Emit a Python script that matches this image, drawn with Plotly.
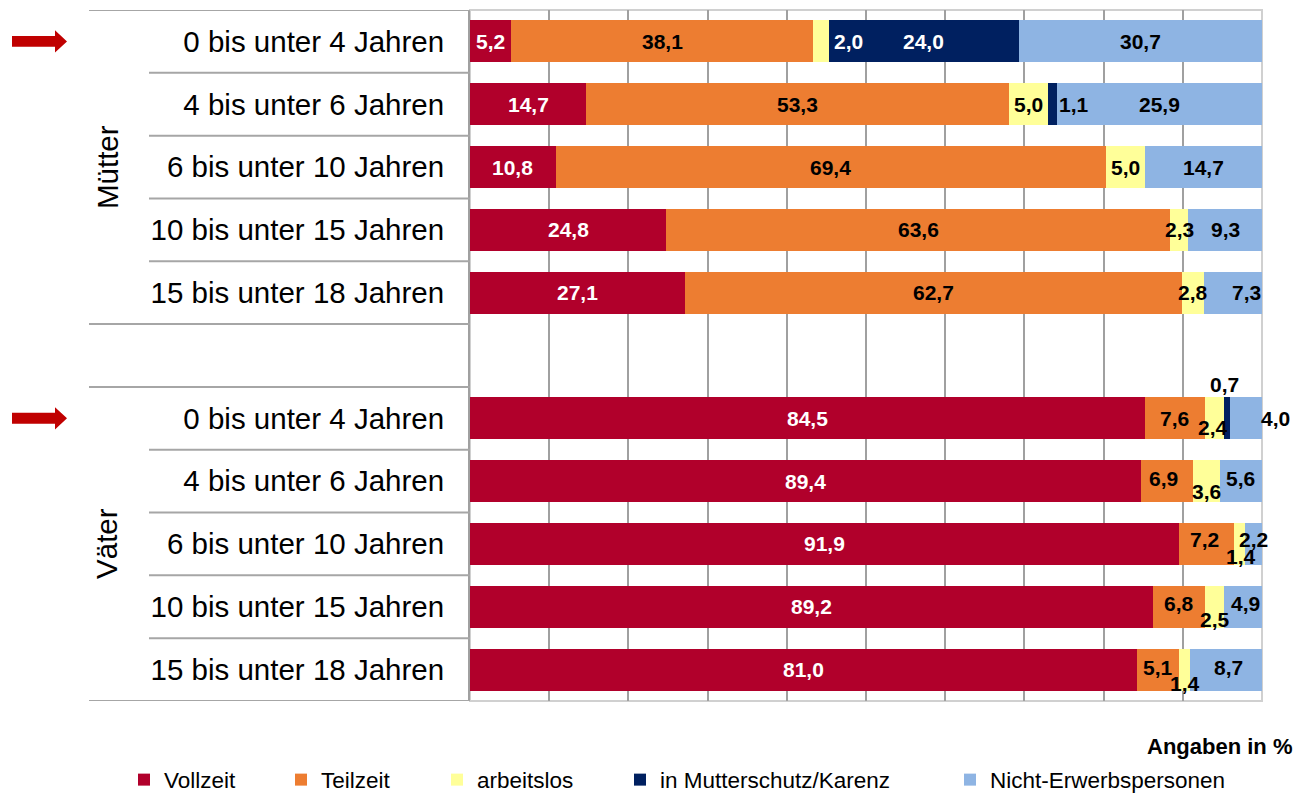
import plotly.graph_objects as go

# ---------------- data ----------------
categories = ["0 bis unter 4 Jahren", "4 bis unter 6 Jahren", "6 bis unter 10 Jahren",
              "10 bis unter 15 Jahren", "15 bis unter 18 Jahren", "",
              "0 bis unter 4 Jahren", "4 bis unter 6 Jahren", "6 bis unter 10 Jahren",
              "10 bis unter 15 Jahren", "15 bis unter 18 Jahren"]
group_names = ["Mütter", "Väter"]
group_rows = [2, 8]          # category slot at which each group label sits
arrow_rows = [0, 6]          # rows marked with an arrow

series_names = ["Vollzeit", "Teilzeit", "arbeitslos", "in Mutterschutz/Karenz", "Nicht-Erwerbspersonen"]
vollzeit = [5.2, 14.7, 10.8, 24.8, 27.1, None, 84.5, 89.4, 91.9, 89.2, 81.0]
teilzeit = [38.1, 53.3, 69.4, 63.6, 62.7, None, 7.6, 6.9, 7.2, 6.8, 5.1]
arbeitslos = [2.0, 5.0, 5.0, 2.3, 2.8, None, 2.4, 3.6, 1.4, 2.5, 1.4]
mutterschutz = [24.0, 1.1, None, None, None, None, 0.7, None, None, None, None]
nicht_erwerb = [30.7, 25.9, 14.7, 9.3, 7.3, None, 4.0, 5.6, 2.2, 4.9, 8.7]
series_values = [vollzeit, teilzeit, arbeitslos, mutterschutz, nicht_erwerb]

unit_note = "Angaben in %"

# ---------------- styles ----------------
colors = ["#B1002B", "#ED7D31", "#FFFF99", "#002060", "#8EB4E3"]
label_colors = ["white", "black", "black", "white", "black"]
FONT = "Liberation Sans, Arial, sans-serif"

# pixel offsets (dx, dy[up], colour override) for labels not centred in their segment
label_offsets = {
    (0, 2): (28, 0, "white"),
    (1, 3): (21, 0, "black"),
    (4, 4): (13, 0, None),
    (6, 2): (-2, -9, None),
    (6, 3): (-3, 34, "black"),
    (6, 4): (29, 0, None),
    (7, 1): (-4, 3, None),
    (7, 2): (0, -10, None),
    (7, 4): (0, 3, None),
    (8, 1): (-2, 4, None),
    (8, 2): (1, -13, None),
    (8, 4): (0, 4, None),
    (9, 1): (0, 3, None),
    (9, 2): (0, -13, None),
    (9, 4): (2, 3, None),
    (10, 1): (0, 2, None),
    (10, 2): (0, -14, None),
    (10, 4): (2, 2, None),
}

# plot area in pixels
W, H = 1296, 793
L, R, T, B = 470, 34, 10, 92
PW = W - L - R
PH = H - T - B


def px_x(p):
    return (p - L) / PW


def px_y(p):
    return (H - B - p) / PH


rows = list(range(len(categories)))

fig = go.Figure()
for k, (name, vals) in enumerate(zip(series_names, series_values)):
    fig.add_trace(go.Bar(
        name=name, y=rows, x=vals, orientation="h",
        marker=dict(color=colors[k], line=dict(width=0)),
        width=0.667, legend="legend" if k == 0 else f"legend{k + 1}",
        hovertemplate=name + ": %{x}<extra></extra>",
    ))

# ---------------- data labels ----------------
annotations = []
for i in rows:
    vals = [s[i] for s in series_values]
    total = sum(v for v in vals if v is not None)
    if total == 0:
        continue
    cum = 0.0
    for k, v in enumerate(vals):
        if v is None:
            continue
        center = (cum + v / 2) / total * 100
        cum += v
        dx, dy, col = label_offsets.get((i, k), (0, 0, None))
        annotations.append(dict(
            x=center, y=i, xref="x", yref="y", showarrow=False,
            text=f"{v:.1f}".replace(".", ","),
            font=dict(family=FONT, size=21, color=col or label_colors[k], weight="bold"),
            xshift=dx, yshift=dy,
        ))

# group labels
for g, r in zip(group_names, group_rows):
    annotations.append(dict(
        x=px_x(107), y=r, xref="paper", yref="y", showarrow=False, text=g,
        xanchor="center", yanchor="middle",
        textangle=-90, font=dict(family=FONT, size=29.5, color="black"),
    ))

annotations.append(dict(
    x=px_x(1294), y=px_y(746), xref="paper", yref="paper", showarrow=False,
    text=f"<b>{unit_note}</b>", xanchor="right", yanchor="middle",
    font=dict(family=FONT, size=22, color="black"),
))

# ---------------- shapes ----------------
shapes = []
# plot area frame (light)
shapes.append(dict(type="rect", xref="paper", yref="paper", x0=0, x1=1, y0=0, y1=1,
                   line=dict(color="#D0D0D0", width=2), layer="below"))
# category table lines
n = len(categories)
full = {-0.5, 4.5, 5.5, n - 0.5}
for b in [r - 0.5 for r in range(n + 1)]:
    x0 = px_x(89) if b in full else px_x(149)
    shapes.append(dict(type="line", xref="paper", yref="y", x0=x0, x1=0, y0=b, y1=b,
                       line=dict(color="#A6A6A6", width=2)))
# arrows
for r in arrow_rows:
    xs, xb, xt = px_x(12), px_x(55), px_x(67)
    hs, hh = 0.087, 0.178
    path = (f"M{xs},{r - hs} L{xb},{r - hs} L{xb},{r - hh} L{xt},{r} "
            f"L{xb},{r + hh} L{xb},{r + hs} L{xs},{r + hs} Z")
    shapes.append(dict(type="path", xref="paper", yref="y", path=path,
                       fillcolor="#C00000", line=dict(width=0)))

fig.update_layout(
    width=W, height=H,
    margin=dict(l=L, r=R, t=T, b=B, pad=0, autoexpand=False),
    paper_bgcolor="white", plot_bgcolor="white",
    barmode="stack", barnorm="percent", bargap=0,
    font=dict(family=FONT, color="black"),
    annotations=annotations, shapes=shapes,
    showlegend=True,
    xaxis=dict(range=[0, 100], tickvals=[10, 20, 30, 40, 50, 60, 70, 80, 90],
               showticklabels=False, ticks="", showgrid=True, gridcolor="#A0A0A0",
               gridwidth=1.6, zeroline=False, showline=False, fixedrange=True),
    yaxis=dict(range=[n - 0.5, -0.5], tickvals=rows, ticktext=categories,
               tickfont=dict(family=FONT, size=29.5, color="black"), ticks="",
               ticklabelstandoff=18, showgrid=False, zeroline=False,
               showline=True, linecolor="#A0A0A0", linewidth=2, fixedrange=True),
)

legend_text_x = [164, 321, 477, 660, 990]
for k, tx in enumerate(legend_text_x):
    key = "legend" if k == 0 else f"legend{k + 1}"
    fig.update_layout({key: dict(
        x=px_x(tx - 40), y=px_y(780), xref="paper", yref="paper",
        xanchor="left", yanchor="middle", orientation="h",
        font=dict(family=FONT, size=22.5, color="black"),
        bgcolor="rgba(0,0,0,0)", borderwidth=0, itemclick=False, itemdoubleclick=False,
    )})

fig.write_html("out.html", config={"displayModeBar": False},
               post_script="document.body.style.margin='0';")
